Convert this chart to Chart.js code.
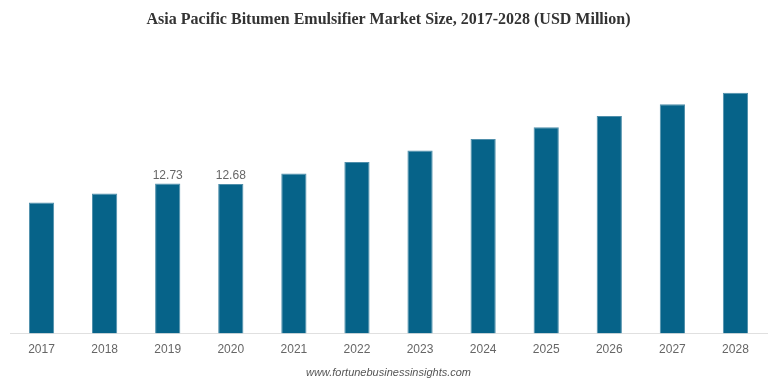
<!DOCTYPE html>
<html>
<head>
<meta charset="utf-8">
<script src="https://cdn.jsdelivr.net/npm/chart.js@4"></script>
<style>
  html, body { margin: 0; padding: 0; background: #fff; }
  #wrap { width: 770px; height: 385px; }
</style>
</head>
<body>
<div id="wrap"><canvas id="myChart"></canvas></div>
<script>
const years = ['2017', '2018', '2019', '2020', '2021', '2022', '2023', '2024', '2025', '2026', '2027', '2028'];
const marketSize = [11.12, 11.88, 12.73, 12.68, 13.58, 14.54, 15.53, 16.49, 17.49, 18.45, 19.44, 20.42];
// only these two bars carry a value label in the original
const labelledYears = ['2019', '2020'];

const ctx = document.getElementById('myChart').getContext('2d');

// draws value labels above selected bars
const valueLabels = {
    id: 'valueLabels',
    afterDatasetsDraw(chart) {
        const meta = chart.getDatasetMeta(0);
        const c = chart.ctx;
        c.save();
        c.font = '12px "Liberation Sans", Arial, sans-serif';
        c.fillStyle = '#666';
        c.textAlign = 'center';
        c.textBaseline = 'bottom';
        meta.data.forEach((bar, i) => {
            if (!labelledYears.includes(years[i])) return;
            c.fillText(marketSize[i].toFixed(2), bar.x, bar.y - 2);
        });
        c.restore();
    }
};

const data = {
    labels: years,
    datasets: [
        {
            data: marketSize,
            backgroundColor: '#066389',
            borderColor: '#4f8fab',
            borderWidth: 1,
            barPercentage: 0.8,
            categoryPercentage: 0.5,
        },
    ],
};

const config = {
    type: 'bar',
    data: data,
    options: {
        responsive: true,
        maintainAspectRatio: false,
        animation: false,
        layout: {
            padding: { left: 10, right: 3, top: 0, bottom: 0 }
        },
        plugins: {
            legend: { display: false },
            tooltip: { enabled: false },
            title: {
                display: true,
                text: 'Asia Pacific Bitumen Emulsifier Market Size, 2017-2028 (USD Million)',
                color: '#333',
                font: { family: '"Liberation Serif", "Times New Roman", serif', size: 16, weight: 'bold' },
                padding: { top: 10, bottom: 45 }
            },
            subtitle: {
                display: true,
                position: 'bottom',
                text: 'www.fortunebusinessinsights.com',
                color: '#555',
                font: { family: '"Liberation Sans", Arial, sans-serif', size: 11, style: 'italic' },
                padding: { top: 1, bottom: 5 }
            }
        },
        scales: {
            x: {
                grid: { display: false, drawTicks: false },
                border: { display: true, color: '#e0e0e0', width: 1 },
                ticks: {
                    color: '#666',
                    padding: 9,
                    font: { family: '"Liberation Sans", Arial, sans-serif', size: 12 }
                }
            },
            y: {
                display: false,
                min: 0,
                max: 22
            }
        }
    },
    plugins: [valueLabels]
};

const myChart = new Chart(ctx, config);
</script>
</body>
</html>
